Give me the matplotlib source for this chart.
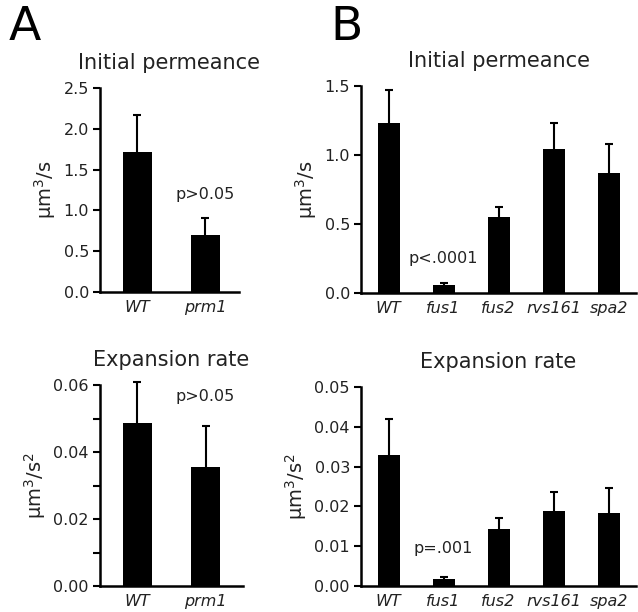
import numpy as np
import matplotlib.pyplot as plt

# panel A
a_names = ['WT', 'prm1']
a_perm = [1.72, 0.70]
a_perm_err = [0.45, 0.21]
a_rate = [0.0486, 0.0356]
a_rate_err = [0.0122, 0.0123]

# panel B
b_names = ['WT', 'fus1', 'fus2', 'rvs161', 'spa2']
b_perm = [1.23, 0.056, 0.55, 1.04, 0.87]
b_perm_err = [0.24, 0.014, 0.07, 0.19, 0.21]
b_rate = [0.0329, 0.0017, 0.0144, 0.0188, 0.0183]
b_rate_err = [0.0091, 0.0005, 0.0028, 0.0047, 0.0063]

W, H = 638, 612
fig = plt.figure(figsize=(W / 100, H / 100), dpi=100)
plt.rcParams['font.family'] = 'DejaVu Sans'


def axes_px(l, r, t, b):
    return fig.add_axes([l / W, 1 - b / H, (r - l) / W, (b - t) / H])


def bars(ax, names, vals, errs, width, xlim, ylim, yticks, minor, title, ylabel,
         ptext, pxy, fmt):
    x = np.arange(len(names))
    vals = np.array(vals)
    tops = vals + np.array(errs)
    ax.bar(x, vals, width, color='black', zorder=2)
    # upper error bars only
    ax.vlines(x, vals, tops, color='black', lw=1.5, zorder=1, clip_on=False)
    ax.scatter(x, tops, marker='_', s=40, color='black', linewidths=1.5,
               zorder=1, clip_on=False)
    ax.set_xlim(*xlim)
    ax.set_ylim(*ylim)
    ax.set_yticks(yticks)
    ax.set_yticklabels([fmt.format(v) for v in yticks], fontsize=11.5, color='#222222')
    if minor is not None:
        ax.set_yticks(minor, minor=True)
        ax.tick_params(axis='y', which='minor', length=5, width=1.5)
    ax.set_xticks(x)
    ax.set_xticklabels(names, fontsize=11.5, style='italic', color='#222222')
    ax.tick_params(axis='x', length=0, pad=6)
    ax.tick_params(axis='y', which='major', length=5, width=1.5, pad=3)
    for s in ['top', 'right']:
        ax.spines[s].set_visible(False)
    for s in ['left', 'bottom']:
        ax.spines[s].set_linewidth(1.8)
    ax.set_title(title, fontsize=15, pad=14, color='#222222')
    ax.set_ylabel(ylabel, fontsize=14, color='#222222')
    ax.text(pxy[0], pxy[1], ptext, ha='center', va='center', fontsize=11.5,
            color='#222222')


ax1 = axes_px(100, 239, 88, 292)
bars(ax1, a_names, a_perm, a_perm_err, 0.43, (-0.55, 1.5), (0, 2.5),
     [0, 0.5, 1.0, 1.5, 2.0, 2.5], None, 'Initial permeance', 'µm$^3$/s',
     'p>0.05', (1, 1.2), '{:.1f}')

ax2 = axes_px(100, 243, 385, 586)
bars(ax2, a_names, a_rate, a_rate_err, 0.42, (-0.55, 1.55), (0, 0.06),
     [0, 0.02, 0.04, 0.06], [0.01, 0.03, 0.05], 'Expansion rate', 'µm$^3$/s$^2$',
     'p>0.05', (1, 0.0565), '{:.2f}')

ax3 = axes_px(361, 636, 86, 293)
bars(ax3, b_names, b_perm, b_perm_err, 0.4, (-0.5, 4.5), (0, 1.5),
     [0, 0.5, 1.0, 1.5], None, 'Initial permeance', 'µm$^3$/s',
     'p<.0001', (1, 0.25), '{:.1f}')

ax4 = axes_px(361, 636, 387, 586)
bars(ax4, b_names, b_rate, b_rate_err, 0.4, (-0.5, 4.5), (0, 0.05),
     [0, 0.01, 0.02, 0.03, 0.04, 0.05], None, 'Expansion rate', 'µm$^3$/s$^2$',
     'p=.001', (1, 0.0093), '{:.2f}')

fig.text(9 / W, 1 - 28 / H, 'A', fontsize=34, va='center', ha='left')
fig.text(330 / W, 1 - 28 / H, 'B', fontsize=34, va='center', ha='left')

fig.savefig('out.png', dpi=100)
